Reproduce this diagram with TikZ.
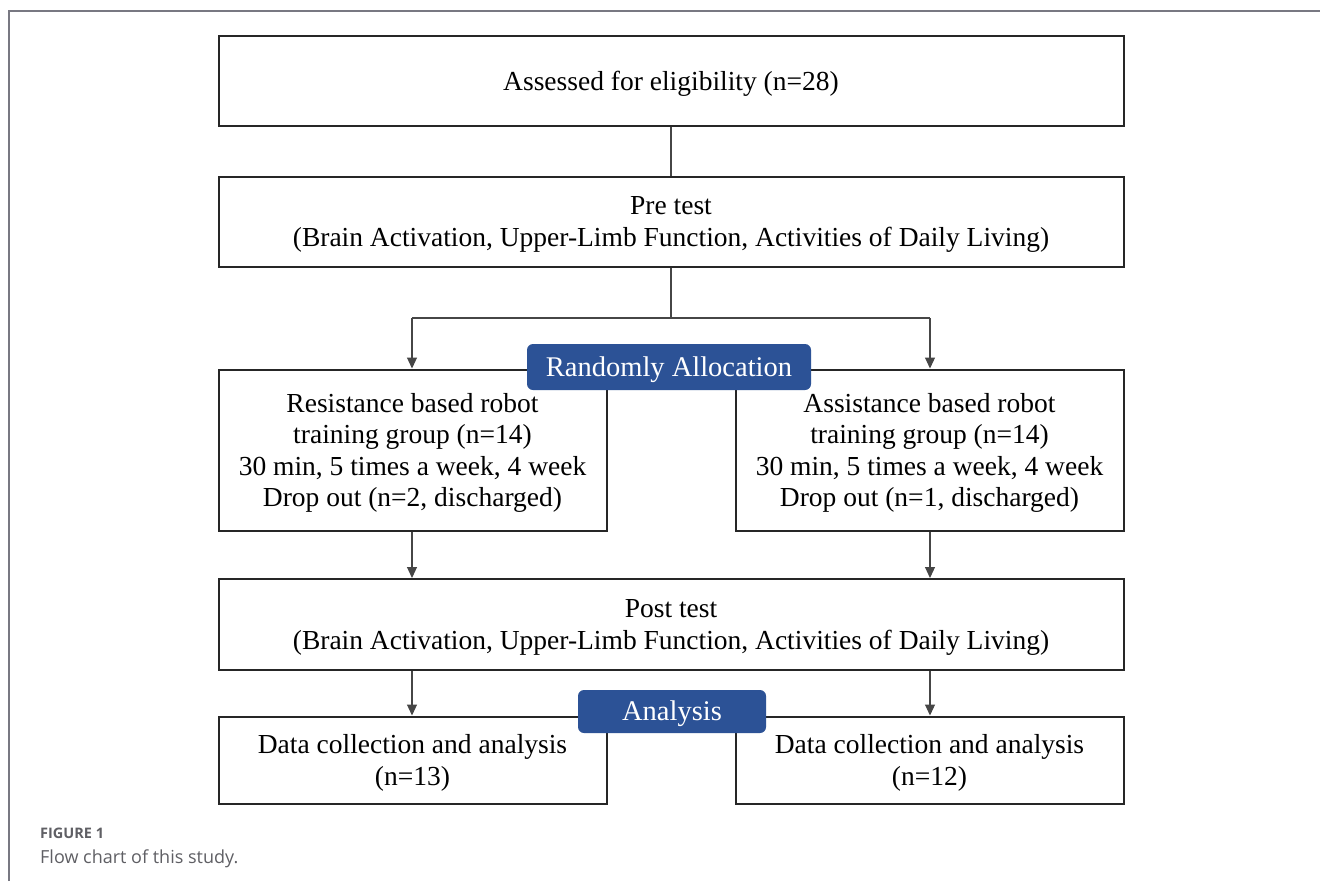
\documentclass[tikz,border=0pt]{standalone}
\usepackage{fontspec}
\setmainfont{Liberation Serif}
\newfontfamily\capfont{Open Sans}
\usetikzlibrary{arrows.meta}
\definecolor{boxblue}{RGB}{44,82,150}
\definecolor{framegray}{RGB}{120,120,130}
\definecolor{capgray}{RGB}{95,95,100}
\definecolor{linegray}{RGB}{70,70,70}
\tikzset{
  box/.style={draw=black!85, line width=2pt, fill=white, inner sep=0pt, align=center,
    font=\fontsize{27.5}{31.5}\selectfont, text depth=-3pt},
  tag/.style={fill=boxblue, rounded corners=6pt, text=white, inner sep=0pt,
    font=\fontsize{28.5}{30}\selectfont, text depth=1pt},
  conn/.style={draw=linegray, line width=1.1pt},
  arr/.style={conn, -{Triangle[length=11pt,width=10pt]}},
}
\begin{document}
\begin{tikzpicture}[x=1pt,y=-1pt]
\useasboundingbox (0,0) rectangle (1320,881);
\fill[white] (0,0) rectangle (1320,881);
\draw[framegray, line width=1.5pt] (9,881) -- (9,11) -- (1320,11);

\node[box, minimum width=905pt, minimum height=90pt] (assess) at (671,81) {Assessed for eligibility (n=28)};
\node[box, minimum width=905pt, minimum height=90pt] (pre) at (671,221.5) {Pre test\\(Brain Activation, Upper-Limb Function, Activities of Daily Living)};
\node[box, minimum width=388pt, minimum height=161pt] (res) at (412.5,450) {Resistance based robot\\training group (n=14)\\30 min, 5 times a week, 4 week\\Drop out (n=2, discharged)};
\node[box, minimum width=388pt, minimum height=161pt] (ass) at (929.5,450) {Assistance based robot\\training group (n=14)\\30 min, 5 times a week, 4 week\\Drop out (n=1, discharged)};
\node[box, minimum width=905pt, minimum height=91pt] (post) at (671,624.5) {Post test\\(Brain Activation, Upper-Limb Function, Activities of Daily Living)};
\node[box, minimum width=388pt, minimum height=87pt] (dl) at (412.5,760) {Data collection and analysis\\(n=13)};
\node[box, minimum width=388pt, minimum height=87pt] (dr) at (929.5,760) {Data collection and analysis\\(n=12)};

\coordinate (split) at (671,318);
\coordinate (sl) at (412,318);
\coordinate (sr) at (930,318);

\draw[conn] (assess.south) -- (pre.north);
\draw[conn] (pre.south) -- (split);
\draw[conn] (sl) -- (sr);
\draw[arr] (sl) -- (sl |- res.north);
\draw[arr] (sr) -- (sr |- ass.north);
\draw[arr] (sl |- res.south) -- (sl |- post.north);
\draw[arr] (sr |- ass.south) -- (sr |- post.north);
\draw[arr] (sl |- post.south) -- (sl |- dl.north);
\draw[arr] (sr |- post.south) -- (sr |- dr.north);

\node[tag, minimum width=284pt, minimum height=46pt] (rand) at (669,367) {Randomly Allocation};
\node[tag, minimum width=188pt, minimum height=43pt] (anal) at (672,711.5) {Analysis};

\node[anchor=base west, text=capgray, inner sep=0pt, font=\capfont\bfseries\fontsize{14.5}{16}\selectfont] (figlab) at (40,838) {FIGURE 1};
\node[anchor=base west, text=capgray, inner sep=0pt, font=\capfont\fontsize{18}{20}\selectfont] (figcap) at (40,863) {Flow chart of this study.};
\end{tikzpicture}
\end{document}
